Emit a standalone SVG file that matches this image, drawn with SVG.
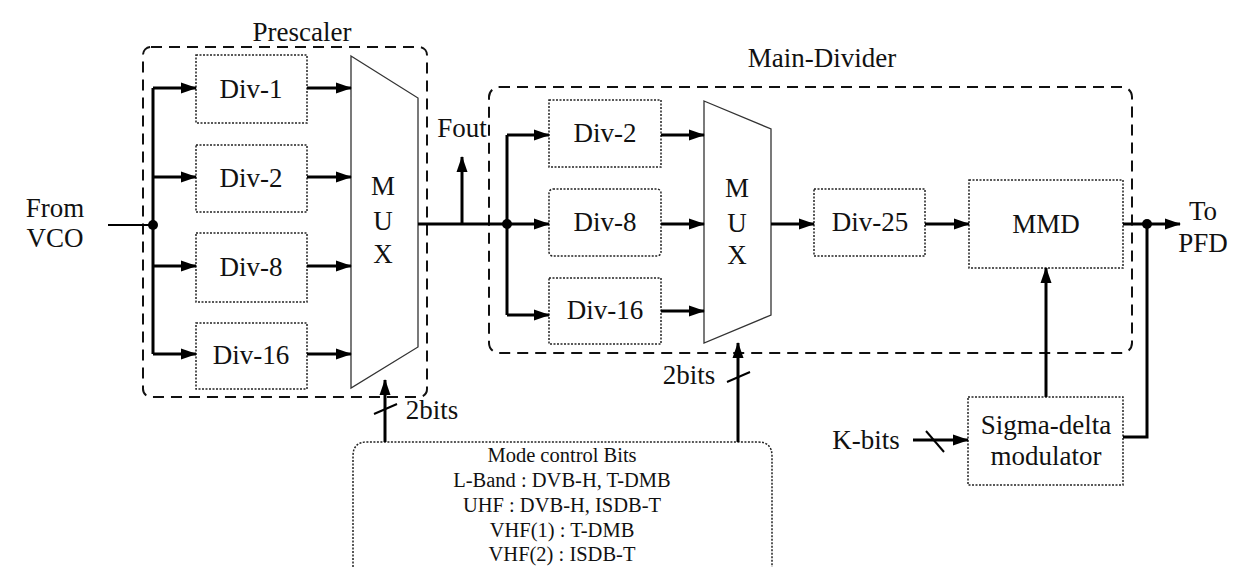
<svg xmlns="http://www.w3.org/2000/svg" width="1246" height="567" viewBox="0 0 1246 567">
<defs>
<marker id="ah" markerUnits="userSpaceOnUse" markerWidth="16" markerHeight="12" refX="15" refY="6" orient="auto">
<path d="M0,0.5 L16,6 L0,11.5 Z" fill="#000"/>
</marker>
<style>
.t{font-family:"Liberation Serif","Times New Roman",serif;font-size:27px;fill:#111;text-anchor:middle}
.m{font-family:"Liberation Serif","Times New Roman",serif;font-size:20.5px;fill:#111;text-anchor:middle}
.blk{fill:#fff;stroke:#222;stroke-width:1.5;stroke-dasharray:2 1.5}
.grp{fill:none;stroke:#111;stroke-width:2;stroke-dasharray:11 7}
.mux{fill:#fff;stroke:#333;stroke-width:1.3}
.w{fill:none;stroke:#000;stroke-width:3}
.wa{fill:none;stroke:#000;stroke-width:3;marker-end:url(#ah)}
.thin{fill:none;stroke:#000;stroke-width:2}
</style>
</defs>
<rect width="1246" height="567" fill="#fff"/>

<g id="prescaler">
<rect class="grp" x="143" y="47" width="284" height="350" rx="8"/>
<text class="t" x="302" y="41">Prescaler</text>
</g>
<g id="main-divider">
<rect class="grp" x="489" y="87" width="643" height="266" rx="10"/>
<text class="t" x="822" y="67">Main-Divider</text>
</g>

<g id="p-div1"><rect class="blk" x="196" y="55" width="111" height="68"/><text class="t" x="251" y="98">Div-1</text></g>
<g id="p-div2"><rect class="blk" x="196" y="145" width="111" height="67"/><text class="t" x="251" y="187">Div-2</text></g>
<g id="p-div8"><rect class="blk" x="196" y="233" width="111" height="69"/><text class="t" x="251" y="276">Div-8</text></g>
<g id="p-div16"><rect class="blk" x="196" y="323" width="111" height="66"/><text class="t" x="251" y="364">Div-16</text></g>
<g id="p-mux">
<polygon class="mux" points="351,56 418,98 418,347 351,388"/>
<text class="t" x="383" y="195">M</text><text class="t" x="383" y="230">U</text><text class="t" x="383" y="263">X</text>
</g>

<g id="m-div2"><rect class="blk" x="549" y="100" width="112" height="67"/><text class="t" x="605" y="142">Div-2</text></g>
<g id="m-div8"><rect class="blk" x="549" y="189" width="112" height="67" rx="4"/><text class="t" x="605" y="231">Div-8</text></g>
<g id="m-div16"><rect class="blk" x="549" y="278" width="112" height="66"/><text class="t" x="605" y="319">Div-16</text></g>
<g id="m-mux">
<polygon class="mux" points="704,101 771,129 771,315 704,343"/>
<text class="t" x="737" y="197">M</text><text class="t" x="737" y="232">U</text><text class="t" x="737" y="264">X</text>
</g>
<g id="div25"><rect class="blk" x="814" y="189" width="111" height="67"/><text class="t" x="870" y="231">Div-25</text></g>
<g id="mmd"><rect class="blk" x="969" y="180" width="154" height="88"/><text class="t" x="1046" y="233">MMD</text></g>
<g id="sdm"><rect class="blk" x="968" y="397" width="155" height="88"/><text class="t" x="1046" y="434">Sigma-delta</text><text class="t" x="1046" y="465">modulator</text></g>

<g id="mode-control">
<path d="M353,567 L353,456 Q353,442 367,442 L758,442 Q772,442 772,456 L772,567" fill="#fff" stroke="#222" stroke-width="1.5" stroke-dasharray="2 1.5"/>
<text class="m" x="562" y="462">Mode control Bits</text>
<text class="m" x="562" y="487">L-Band : DVB-H, T-DMB</text>
<text class="m" x="562" y="512">UHF : DVB-H, ISDB-T</text>
<text class="m" x="562" y="537">VHF(1) : T-DMB</text>
<text class="m" x="562" y="561">VHF(2) : ISDB-T</text>
</g>

<g id="labels">
<text class="t" x="55" y="217">From</text>
<text class="t" x="55" y="247">VCO</text>
<text class="t" x="462" y="137">Fout</text>
<text class="t" x="689" y="384">2bits</text>
<text class="t" x="432" y="419">2bits</text>
<text class="t" x="1203" y="220">To</text>
<text class="t" x="1203" y="252">PFD</text>
<text class="t" x="866" y="449">K-bits</text>
</g>

<g id="connectors">
<line class="thin" x1="108" y1="225" x2="153" y2="225"/>
<circle cx="153" cy="225" r="5" fill="#000"/>
<path class="w" d="M153,88 L153,354"/>
<line class="wa" x1="153" y1="88" x2="196" y2="88"/>
<line class="wa" x1="153" y1="177" x2="196" y2="177"/>
<line class="wa" x1="153" y1="266" x2="196" y2="266"/>
<line class="wa" x1="153" y1="354" x2="196" y2="354"/>
<line class="wa" x1="307" y1="88" x2="351" y2="88"/>
<line class="wa" x1="307" y1="177" x2="351" y2="177"/>
<line class="wa" x1="307" y1="266" x2="351" y2="266"/>
<line class="wa" x1="307" y1="354" x2="351" y2="354"/>
<line class="w" x1="418" y1="224" x2="507" y2="224"/>
<line class="wa" x1="462" y1="224" x2="462" y2="157"/>
<circle cx="507" cy="224" r="5" fill="#000"/>
<path class="w" d="M507,135 L507,315"/>
<line class="wa" x1="507" y1="135" x2="549" y2="135"/>
<line class="wa" x1="507" y1="224" x2="549" y2="224"/>
<line class="wa" x1="507" y1="315" x2="549" y2="315"/>
<line class="wa" x1="661" y1="135" x2="704" y2="135"/>
<line class="wa" x1="661" y1="224" x2="704" y2="224"/>
<line class="wa" x1="661" y1="311" x2="704" y2="311"/>
<line class="wa" x1="771" y1="224" x2="814" y2="224"/>
<line class="wa" x1="925" y1="224" x2="969" y2="224"/>
<line class="wa" x1="1123" y1="224" x2="1180" y2="224"/>
<circle cx="1147" cy="224" r="5" fill="#000"/>
<path class="w" d="M1147,224 L1147,437 L1123,437"/>
<line class="wa" x1="1046" y1="397" x2="1046" y2="268"/>
<line class="wa" x1="385" y1="442" x2="385" y2="380"/>
<line class="thin" x1="374" y1="414" x2="397" y2="404"/>
<line class="wa" x1="738" y1="442" x2="738" y2="343"/>
<line class="thin" x1="727" y1="382" x2="750" y2="372"/>
<line class="wa" x1="913" y1="440" x2="968" y2="440"/>
<line class="thin" x1="926" y1="431" x2="944" y2="452"/>
</g>
</svg>
